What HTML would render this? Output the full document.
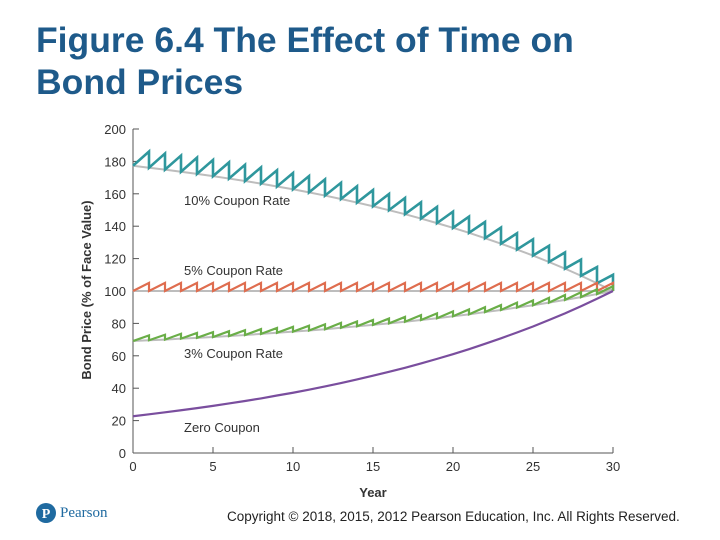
<!DOCTYPE html>
<html><head><meta charset="utf-8"><style>
body{margin:0;width:720px;height:540px;background:#fff;overflow:hidden;font-family:"Liberation Sans",sans-serif;position:relative}
#title{position:absolute;left:36px;top:19px;font-size:35.5px;font-weight:bold;color:#1e5a8a;line-height:42px;margin:0}
#copy{position:absolute;left:227px;top:509px;font-size:13.5px;color:#222}
#logo{position:absolute;left:36px;top:503px;display:flex;align-items:center;gap:4px;color:#1f6aa0;font-size:15px;font-family:"Liberation Serif",serif}
</style></head><body>
<h1 id="title">Figure 6.4 The Effect of Time on<br>Bond Prices</h1>
<svg id="chart" width="720" height="540" style="position:absolute;left:0;top:0"></svg>
<div id="logo"><svg width="20" height="20"><circle cx="10" cy="10" r="10" fill="#1f6aa0"/><text x="10" y="15" font-size="14" fill="#fff" text-anchor="middle" font-family="Liberation Serif" font-weight="bold">P</text></svg>Pearson</div>
<div id="copy">Copyright © 2018, 2015, 2012 Pearson Education, Inc. All Rights Reserved.</div>
<script>
const years=[0,1,2,3,4,5,6,7,8,9,10,11,12,13,14,15,16,17,18,19,20,21,22,23,24,25,26,27,28,29,30];
const price10=[177.3,176.1,174.9,173.6,172.3,170.9,169.4,167.9,166.3,164.5,162.8,160.9,158.9,156.8,154.6,152.3,149.9,147.4,144.7,141.9,139.0,135.9,132.6,129.2,125.6,121.9,117.9,113.8,109.4,104.8,100];
const price5=[100,100,100,100,100,100,100,100,100,100,100,100,100,100,100,100,100,100,100,100,100,100,100,100,100,100,100,100,100,100,100];
const price3=[69.1,69.6,70.0,70.6,71.1,71.6,72.2,72.8,73.5,74.2,74.9,75.6,76.4,77.3,78.2,79.1,80.0,81.0,82.1,83.2,84.4,85.6,87.0,88.3,89.8,91.2,92.8,94.5,96.2,98.1,100];
const priceZero=[22.7,23.9,25.1,26.4,27.7,29.1,30.6,32.1,33.7,35.5,37.2,39.1,41.1,43.2,45.4,47.7,50.1,52.6,55.3,58.1,61.0,64.1,67.4,70.8,74.4,78.1,82.1,86.2,90.6,95.2,100];
const coupons=[10,5,3,0];
const seriesNames=["10% Coupon Rate","5% Coupon Rate","3% Coupon Rate","Zero Coupon"];
const yTicks=[0,20,40,60,80,100,120,140,160,180,200];
const xTicks=[0,5,10,15,20,25,30];

const NS="http://www.w3.org/2000/svg";
const svg=document.getElementById('chart');
const x=v=>133+v*16;
const y=v=>453-v*1.62;
function mk(t,a,p){const e=document.createElementNS(NS,t);for(const k in a)e.setAttribute(k,a[k]);(p||svg).appendChild(e);return e;}
const txt="#333";
const ax=mk('line',{x1:133,y1:129,x2:133,y2:453,stroke:'#555','stroke-width':1});


const axx=mk('line',{x1:133,y1:453,x2:613,y2:453,stroke:'#555','stroke-width':1});


yTicks.forEach(v=>{
  mk('line',{x1:133,y1:y(v),x2:139,y2:y(v),stroke:'#555'});
  const t=mk('text',{x:126,y:y(v)+5,'font-size':13,fill:txt,'text-anchor':'end'});t.textContent=v;
  
  
});
xTicks.forEach(v=>{
  mk('line',{x1:x(v),y1:453,x2:x(v),y2:447,stroke:'#555'});
  const t=mk('text',{x:x(v),y:471,'font-size':13,fill:txt,'text-anchor':'middle'});t.textContent=v;
  
  
});
const xt=mk('text',{x:373,y:497,'font-size':13,fill:txt,'text-anchor':'middle','font-weight':'bold'});xt.textContent="Year";


const yt=mk('text',{x:0,y:0,'font-size':13,fill:txt,'text-anchor':'middle','font-weight':'bold',transform:'translate(91,290) rotate(-90)'});yt.textContent="Bond Price (% of Face Value)";



const series=[price10,price5,price3,priceZero];
const colors=['#2f979d','#df6d4f','#6aae48','#7a4e9e'];
const names=['series-10pct-coupon','series-5pct-coupon','series-3pct-coupon','series-zero-coupon'];
series.forEach((s,k)=>{
  if(coupons[k]===0)return;
  const p=mk('polyline',{points:s.map((v,i)=>x(years[i])+','+y(v)).join(' '),fill:'none',stroke:'#bdbdbd','stroke-width':2});
  
  
});
series.forEach((s,k)=>{
  const c=coupons[k];let pts=[x(years[0])+','+y(s[0])];
  for(let i=1;i<s.length;i++){
    pts.push(x(years[i])+','+y(s[i]+c));
    if(c>0)pts.push(x(years[i])+','+y(s[i]));
  }
  const p=mk('polyline',{points:pts.join(' '),fill:'none',stroke:colors[k],'stroke-width':k===0?2.6:2.2,'stroke-linejoin':'miter'});
  
  
});
const labelY=[200,270,353,427];
seriesNames.forEach((n,k)=>{
  const t=mk('text',{x:184,y:labelY[k]+5,'font-size':13,fill:txt});t.textContent=n;
  
  
});
</script>
</body></html>
